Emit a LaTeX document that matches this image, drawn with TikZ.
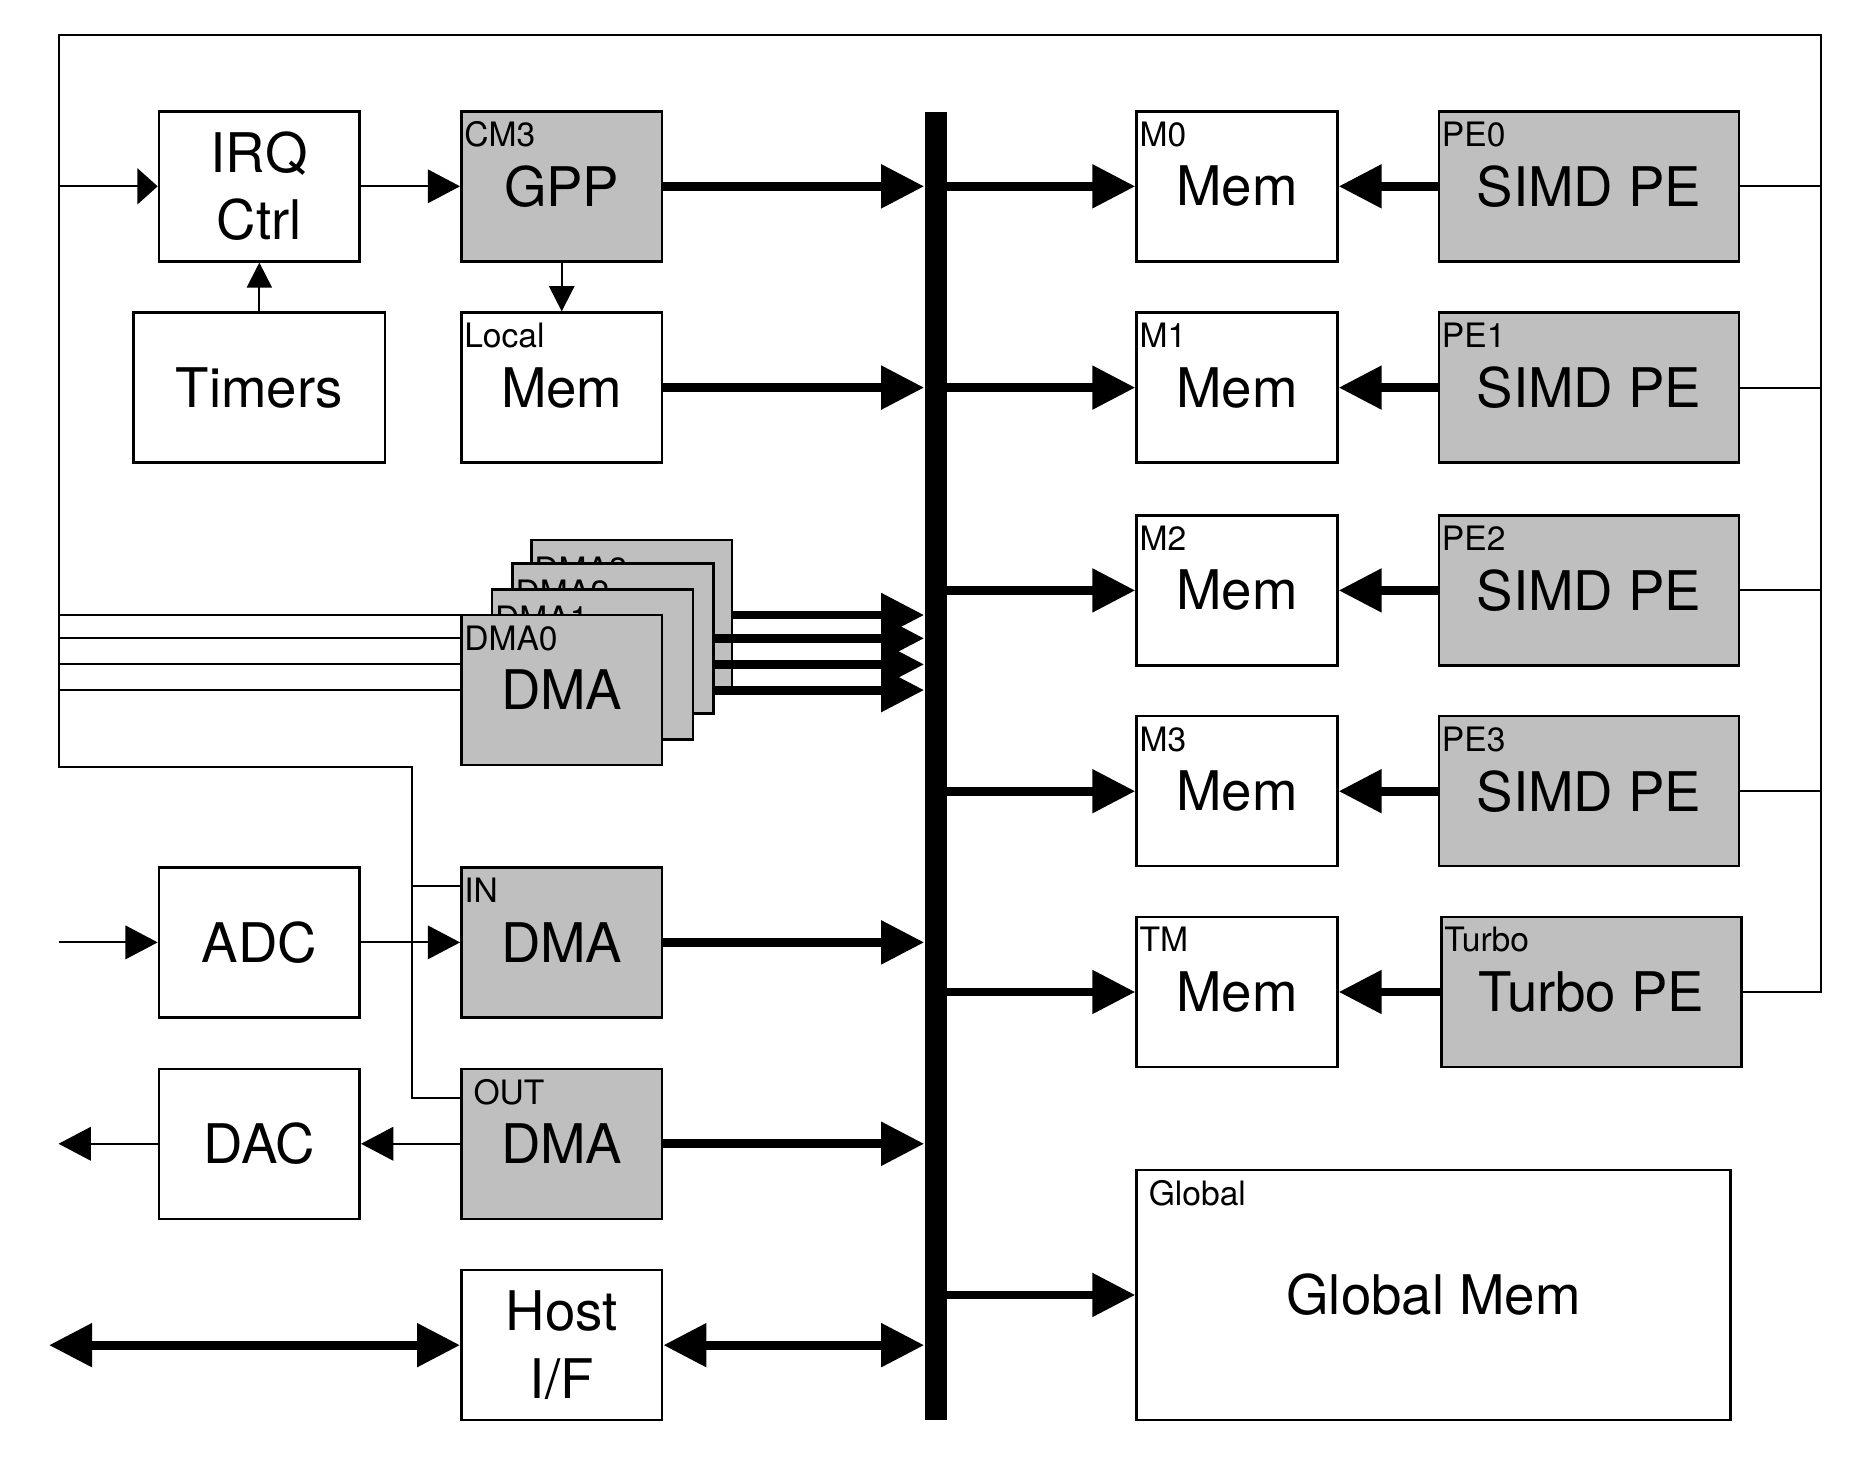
\documentclass[tikz,border=0pt]{standalone}
\usepackage{fontspec}
\setmainfont{TeX Gyre Heros}
\usetikzlibrary{arrows.meta,positioning}
\definecolor{pegray}{gray}{0.75}

\begin{document}
\begin{tikzpicture}[box/.style={draw,line width=0.6pt,minimum width=1.68cm,minimum height=1.255cm,inner sep=0pt,align=center,font=\fontsize{13}{16}\selectfont},
core/.style={box,fill=pegray},
tag/.style={anchor=north west,inner sep=0pt,xshift=0.8pt,yshift=-2.6pt,font=\fontsize{8}{9}\selectfont},
wire/.style={line width=0.5pt},
sig/.style={wire,-{Triangle[length=0.27cm,width=0.28cm]}},
sigsmall/.style={wire,-{Triangle[length=0.21cm,width=0.21cm]}},
irqin/.style={wire,-{Triangle[length=0.17cm,width=0.30cm]}},
buslink/.style={line width=2.1pt,-{Triangle[length=0.36cm,width=0.35cm]}},
duplex/.style={line width=2.1pt,{Triangle[length=0.36cm,width=0.35cm]}-{Triangle[length=0.36cm,width=0.35cm]}}]
\useasboundingbox (0,0) rectangle (15.68,-12.30);
% left column: control, dma, converters
\begin{scope}
\node[box] (irq) at (2.17,-1.559) {IRQ\\Ctrl};
\node[core] (gpp) at (4.70,-1.559) {GPP};
\node[tag] (gpptag) at (gpp.north west) {CM3};
\node[box,minimum width=2.105cm] (timers) at (2.17,-3.243) {Timers};
\node[box] (lmem) at (4.70,-3.243) {Mem};
\node[tag] (lmemtag) at (lmem.north west) {Local};
\node[core] (dma3) at (5.286,-5.146) {};
\node[tag,yshift=-1.5pt] (dma3tag) at (dma3.north west) {DMA3};
\node[core] (dma2) at (5.13,-5.341) {};
\node[tag,yshift=-1.5pt] (dma2tag) at (dma2.north west) {DMA2};
\node[core] (dma1) at (4.958,-5.559) {};
\node[tag,yshift=-1.5pt] (dma1tag) at (dma1.north west) {DMA1};
\node[core] (dma0) at (4.70,-5.774) {DMA};
\node[tag] (dma0tag) at (dma0.north west) {DMA0};
\node[box] (adc) at (2.17,-7.885) {ADC};
\node[core] (indma) at (4.70,-7.885) {DMA};
\node[tag] (indmatag) at (indma.north west) {IN};
\node[box] (dac) at (2.17,-9.57) {DAC};
\node[core] (outdma) at (4.70,-9.57) {DMA};
\node[tag,xshift=2.2pt] (outdmatag) at (outdma.north west) {OUT};
\node[box] (host) at (4.70,-11.255) {Host\\I/F};
\end{scope}
% the bus
\node[fill=black,minimum width=0.18cm,minimum height=10.945cm,inner sep=0pt] (bus) at (7.83,-6.408) {};
% right column: memories and PEs
\begin{scope}
\node[box] (m0) at (10.35,-1.559) {Mem};
\node[tag] (m0tag) at (m0.north west) {M0};
\node[core,minimum width=2.51cm] (pe0) at (13.295,-1.559) {SIMD PE};
\node[tag] (pe0tag) at (pe0.north west) {PE0};
\node[box] (m1) at (10.35,-3.243) {Mem};
\node[tag] (m1tag) at (m1.north west) {M1};
\node[core,minimum width=2.51cm] (pe1) at (13.295,-3.243) {SIMD PE};
\node[tag] (pe1tag) at (pe1.north west) {PE1};
\node[box] (m2) at (10.35,-4.94) {Mem};
\node[tag] (m2tag) at (m2.north west) {M2};
\node[core,minimum width=2.51cm] (pe2) at (13.295,-4.94) {SIMD PE};
\node[tag] (pe2tag) at (pe2.north west) {PE2};
\node[box] (m3) at (10.35,-6.62) {Mem};
\node[tag] (m3tag) at (m3.north west) {M3};
\node[core,minimum width=2.51cm] (pe3) at (13.295,-6.62) {SIMD PE};
\node[tag] (pe3tag) at (pe3.north west) {PE3};
\node[box] (tm) at (10.35,-8.30) {Mem};
\node[tag] (tmtag) at (tm.north west) {TM};
\node[core,minimum width=2.51cm] (turbo) at (13.315,-8.30) {Turbo PE};
\node[tag] (turbotag) at (turbo.north west) {Turbo};
\node[box,minimum width=4.97cm,minimum height=2.09cm] (global) at (11.995,-10.835) {Global Mem};
\node[tag,xshift=2.2pt] (globaltag) at (global.north west) {Global};
\end{scope}
% loop wiring
\coordinate (tl) at (0.49,-0.29);
\coordinate (tr) at (15.235,-0.29);
\coordinate (ioturn) at (3.445,-6.416);
\coordinate (intap) at (3.445,-7.41);
\coordinate (outtap) at (3.445,-9.185);
\coordinate (hostext) at (0.41,-11.255);
\draw[wire] (turbo) -- (turbo -| tr) -- (tr) -- (tl) |- (ioturn) -- (outtap) -- (outtap -| outdma.west);
\draw[wire] (intap) -- (intap -| indma.west);
\draw[wire] (pe0) -- (pe0 -| tr);
\draw[wire] (pe1) -- (pe1 -| tr);
\draw[wire] (pe2) -- (pe2 -| tr);
\draw[wire] (pe3) -- (pe3 -| tr);
\draw[wire] (dma3 -| tl) -- (dma3 -| dma0.west);
\draw[wire] (dma2 -| tl) -- (dma2 -| dma0.west);
\draw[wire] (dma1 -| tl) -- (dma1 -| dma0.west);
\draw[wire] (dma0 -| tl) -- (dma0 -| dma0.west);
% thin signals
\draw[irqin] (irq -| tl) -- (irq);
\draw[sig] (irq) -- (gpp);
\draw[sigsmall] (timers) -- (irq);
\draw[sigsmall] (gpp) -- (lmem);
\draw[sig] (adc -| tl) -- (adc);
\draw[sig] (adc) -- (indma);
\draw[sig] (outdma) -- (dac);
\draw[sig] (dac) -- (dac -| tl);
% bus traffic
\draw[buslink] (gpp) -- (gpp -| bus.west);
\draw[buslink] (lmem) -- (lmem -| bus.west);
\draw[buslink] (dma3) -- (dma3 -| bus.west);
\draw[buslink] (dma2) -- (dma2 -| bus.west);
\draw[buslink] (dma2.east |- dma1) -- (dma1 -| bus.west);
\draw[buslink] (dma2.east |- dma0) -- (dma0 -| bus.west);
\draw[buslink] (indma) -- (indma -| bus.west);
\draw[buslink] (outdma) -- (outdma -| bus.west);
\draw[duplex] (host) -- (host -| bus.west);
\draw[duplex] (hostext) -- (host);
\draw[buslink] (bus.east |- m0) -- (m0);
\draw[buslink] (bus.east |- m1) -- (m1);
\draw[buslink] (bus.east |- m2) -- (m2);
\draw[buslink] (bus.east |- m3) -- (m3);
\draw[buslink] (bus.east |- tm) -- (tm);
\draw[buslink] (bus.east |- global) -- (global);
\draw[buslink] (pe0) -- (m0);
\draw[buslink] (pe1) -- (m1);
\draw[buslink] (pe2) -- (m2);
\draw[buslink] (pe3) -- (m3);
\draw[buslink] (turbo) -- (tm);
\end{tikzpicture}
\end{document}
